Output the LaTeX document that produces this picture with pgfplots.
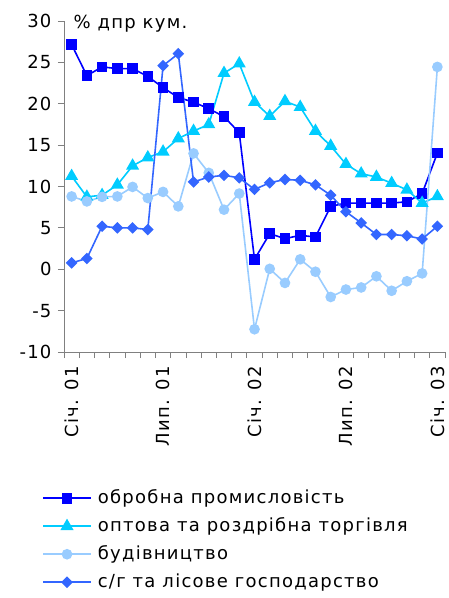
\documentclass[border=0pt]{standalone}
\usepackage{fontspec}
\setmainfont{DejaVu Sans}[LetterSpace=7]
\usepackage{pgfplots}
\pgfplotsset{compat=1.18}
\definecolor{c1}{RGB}{0,0,255}
\definecolor{c2}{RGB}{0,204,255}
\definecolor{c3}{RGB}{153,204,255}
\definecolor{c4}{RGB}{51,102,255}
\begin{document}
\begin{tikzpicture}[x=1pt,y=1pt]
\useasboundingbox (0,0) rectangle (448,-598);
\begin{axis}[
  at={(64pt,-352pt)}, anchor=south west,
  scale only axis, width=381pt, height=331pt,
  xmin=-0.5, xmax=24.5, ymin=-10, ymax=30,
  ytick={-10,-5,...,30},
  xtick={-0.5,0.5,...,24.5}, xticklabels={},
  extra x ticks={0,6,12,18,24},
  extra x tick labels={Січ. 01,Лип. 01,Січ. 02,Лип. 02,Січ. 03},
  extra x tick style={major tick length=0pt, tick label style={yshift=-11pt, rotate=90, anchor=east}},
  axis lines*=left,
  tick align=outside, major tick length=6pt,
  axis line style={gray, line width=0.8pt}, tick style={gray, line width=0.8pt},
  font=\fontsize{18}{20}\selectfont,
  /pgf/number format/assume math mode=true,
  yticklabel style={xshift=-3pt},
  clip=false,
  legend style={draw=none, fill=none, at={(-0.0577,-0.414)}, anchor=north west,
    inner sep=0pt, row sep=10pt, column sep=6pt,
    font=\fontsize{18}{20}\selectfont,
    nodes={inner sep=0pt, text height=14pt, text depth=4pt}},
  legend cell align=left,
  legend image code/.code={
    \draw[mark repeat=2,mark phase=2,#1] plot coordinates {(0pt,0pt) (24pt,0pt) (48pt,0pt)};
  },
]
\addplot[color=c1, line width=1.6pt, mark=square*, mark size=4.5pt, mark options={solid}] coordinates {
(0,27.15) (1,23.4) (2,24.45) (3,24.25) (4,24.25) (5,23.3) (6,21.95) (7,20.75) (8,20.2) (9,19.4)
(10,18.45) (11,16.5) (12,1.2) (13,4.3) (14,3.7) (15,4.1) (16,3.9) (17,7.6) (18,8.0) (19,8.0)
(20,8.0) (21,8.0) (22,8.15) (23,9.15) (24,14.05)};
\addlegendentry{обробна промисловість}
\addplot[color=c2, line width=1.6pt, mark=triangle*, mark size=6pt, mark options={solid}] coordinates {
(0,11.25) (1,8.75) (2,8.95) (3,10.2) (4,12.5) (5,13.5) (6,14.2) (7,15.8) (8,16.7) (9,17.5)
(10,23.7) (11,24.85) (12,20.2) (13,18.5) (14,20.3) (15,19.6) (16,16.7) (17,14.9) (18,12.7) (19,11.55)
(20,11.15) (21,10.4) (22,9.6) (23,8.0) (24,8.8)};
\addlegendentry{оптова та роздрібна торгівля}
\addplot[color=c3, line width=1.6pt, mark=*, mark size=4.5pt, mark options={solid}] coordinates {
(0,8.8) (1,8.2) (2,8.75) (3,8.8) (4,9.95) (5,8.6) (6,9.35) (7,7.6) (8,14.0) (9,11.65)
(10,7.2) (11,9.15) (12,-7.25) (13,0.05) (14,-1.65) (15,1.2) (16,-0.3) (17,-3.35) (18,-2.45) (19,-2.2)
(20,-0.85) (21,-2.6) (22,-1.45) (23,-0.5) (24,24.45)};
\addlegendentry{будівництво}
\addplot[color=c4, line width=1.6pt, mark=square*, mark size=3.3pt, mark options={solid, rotate=45}] coordinates {
(0,0.77) (1,1.3) (2,5.2) (3,5.0) (4,5.0) (5,4.8) (6,24.6) (7,26.05) (8,10.55) (9,11.15)
(10,11.35) (11,11.05) (12,9.65) (13,10.45) (14,10.85) (15,10.75) (16,10.2) (17,8.95) (18,6.95) (19,5.6)
(20,4.2) (21,4.2) (22,4.05) (23,3.65) (24,5.2)};
\addlegendentry{с/г та лісове господарство}
\node[anchor=base west, font=\fontsize{18}{20}\selectfont] at ([xshift=6pt,yshift=-7pt]rel axis cs:0,1) {\% дпр кум.};
\end{axis}
\end{tikzpicture}
\end{document}
